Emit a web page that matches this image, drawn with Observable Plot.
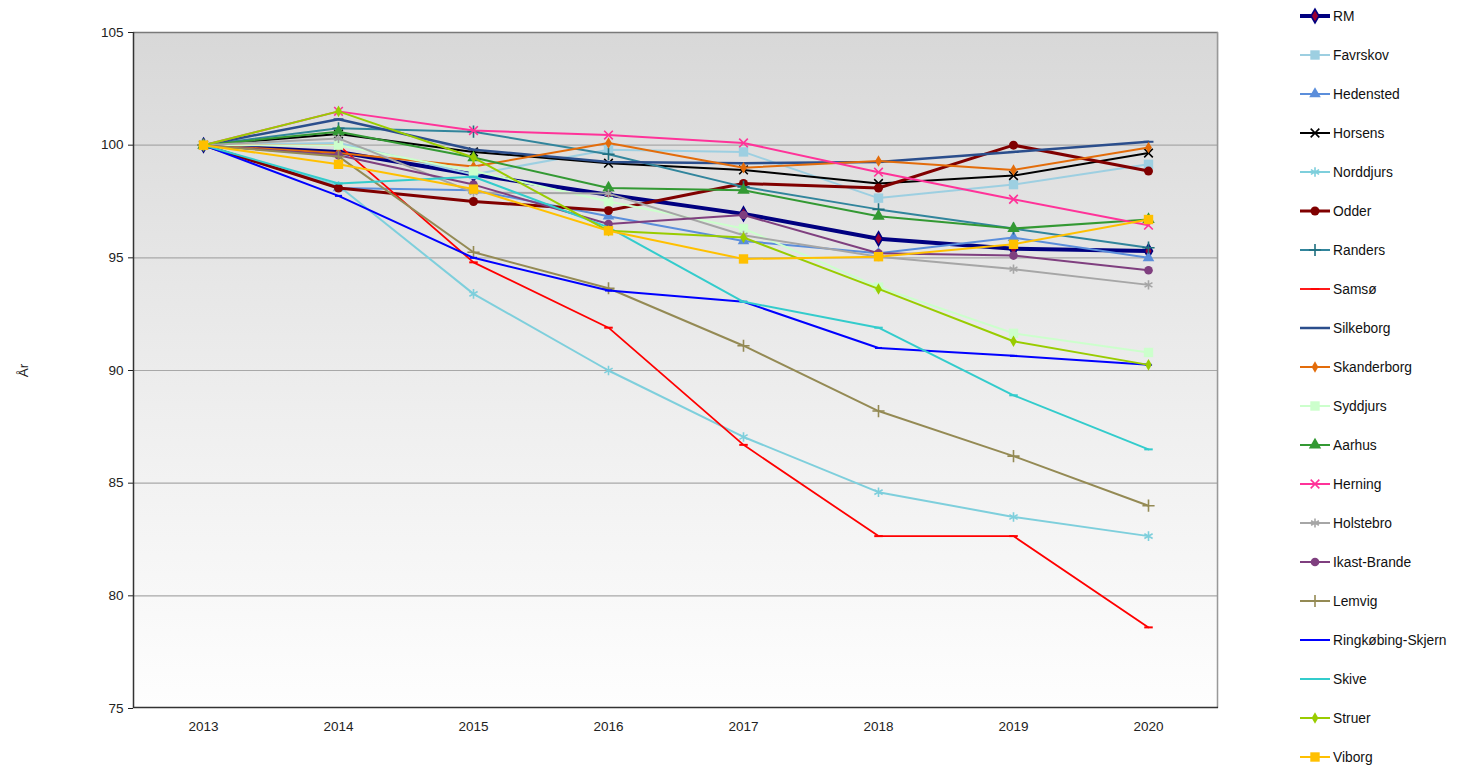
<!DOCTYPE html>
<html><head><meta charset="utf-8">
<script src="https://cdn.jsdelivr.net/npm/d3@7"></script>
<script src="https://cdn.jsdelivr.net/npm/@observablehq/plot@0.6"></script>
<style>
body{margin:0;background:#fff;font-family:"Liberation Sans",Arial,sans-serif;}
#wrap{position:relative;width:1461px;height:766px;overflow:hidden;}
#legend{position:absolute;left:1298px;top:0;width:163px;height:766px;}
.item{position:absolute;left:0;height:20px;display:flex;align-items:center;font-size:13.8px;color:#111;white-space:nowrap;}
.item svg{display:block;margin-right:1px;}
</style></head><body>
<div id="wrap"><div id="chart"></div><div id="legend"></div></div>
<script>
// ---- data ----
const years = ["2013","2014","2015","2016","2017","2018","2019","2020"];
const yTicks = [75,80,85,90,95,100,105];
const seriesNames = ["RM","Favrskov","Hedensted","Horsens","Norddjurs","Odder","Randers","Samsø","Silkeborg","Skanderborg","Syddjurs","Aarhus","Herning","Holstebro","Ikast-Brande","Lemvig","Ringkøbing-Skjern","Skive","Struer","Viborg"];
const vRM          = [100, 99.7, 98.7, 97.8, 96.95, 95.85, 95.4, 95.3];
const vFavrskov    = [100, 100.1, 98.7, 99.8, 99.7, 97.65, 98.25, 99.15];
const vHedensted   = [100, 98.1, 98.0, 96.85, 95.75, 95.2, 95.9, 95.0];
const vHorsens     = [100, 100.5, 99.7, 99.2, 98.9, 98.3, 98.65, 99.65];
const vNorddjurs   = [100, 98.2, 93.4, 90.0, 87.05, 84.6, 83.5, 82.65];
const vOdder       = [100, 98.1, 97.5, 97.1, 98.3, 98.1, 100.0, 98.85];
const vRanders     = [100, 100.75, 100.6, 99.6, 98.15, 97.15, 96.3, 95.45];
const vSamso       = [100, 100.0, 94.8, 91.9, 86.7, 82.65, 82.65, 78.6];
const vSilkeborg   = [100, 101.15, 99.8, 99.25, 99.2, 99.25, 99.7, 100.15];
const vSkanderborg = [100, 99.65, 99.05, 100.1, 99.0, 99.3, 98.9, 99.9];
const vSyddjurs    = [100, 100.0, 98.85, 97.5, 96.3, 93.7, 91.65, 90.8];
const vAarhus      = [100, 100.6, 99.45, 98.1, 98.0, 96.85, 96.3, 96.7];
const vHerning     = [100, 101.5, 100.65, 100.45, 100.1, 98.8, 97.6, 96.45];
const vHolstebro   = [100, 100.3, 97.9, 97.85, 96.0, 95.05, 94.5, 93.8];
const vIkast       = [100, 99.55, 98.25, 96.5, 96.9, 95.2, 95.1, 94.45];
const vLemvig      = [100, 99.5, 95.25, 93.65, 91.1, 88.2, 86.2, 84.0];
const vRingkobing  = [100, 97.75, 95.0, 93.55, 93.05, 91.0, 90.65, 90.25];
const vSkive       = [100, 98.3, 98.6, 96.35, 93.05, 91.9, 88.9, 86.5];
const vStruer      = [100, 101.5, 99.45, 96.2, 95.9, 93.62, 91.3, 90.25];
const vViborg      = [100, 99.15, 98.05, 96.2, 94.95, 95.05, 95.6, 96.7];
const seriesValues = [vRM,vFavrskov,vHedensted,vHorsens,vNorddjurs,vOdder,vRanders,vSamso,vSilkeborg,vSkanderborg,vSyddjurs,vAarhus,vHerning,vHolstebro,vIkast,vLemvig,vRingkobing,vSkive,vStruer,vViborg];

// ---- styles ----
const dash = {draw(ctx, size){ const w = Math.sqrt(size) * 0.8; ctx.moveTo(-w, 0); ctx.lineTo(w, 0); }};
const symMap = {diamond: d3.symbolDiamond, square: d3.symbolSquare, triangle: d3.symbolTriangle, times: d3.symbolTimes,
  asterisk: d3.symbolAsterisk, circle: d3.symbolCircle, plus: d3.symbolPlus};
const styles = [
  {c:"#000080", w:4,   s:"diamond",  r:4.2, fill:"#990033", stroke:"#000080"},
  {c:"#9DCFE1", w:2,   s:"square",   r:5.3, fill:"#9DCFE1"},
  {c:"#5B8EDB", w:2,   s:"triangle", r:4.3, fill:"#5B8EDB"},
  {c:"#000000", w:2,   s:"times",    r:4,   stroke:"#000000"},
  {c:"#7ECFDC", w:2,   s:"asterisk", r:4.5, stroke:"#7ECFDC"},
  {c:"#800000", w:3,   s:"circle",   r:4.5, fill:"#800000"},
  {c:"#31859C", w:2,   s:"plus",     r:4,   stroke:"#1F6F7F"},
  {c:"#FF0000", w:1.8, s:dash,       r:3,   stroke:"#FF0000"},
  {c:"#2B4E8C", w:2.5, s:dash,       r:3.5, stroke:"#2B4E8C"},
  {c:"#E36C0A", w:2,   s:"diamond",  r:3.5, fill:"#E36C0A"},
  {c:"#CCFFCC", w:2,   s:"square",   r:5.3, fill:"#CCFFCC"},
  {c:"#339933", w:2,   s:"triangle", r:4.6, fill:"#339933"},
  {c:"#FF3399", w:2,   s:"times",    r:4,   stroke:"#FF3399"},
  {c:"#A6A6A6", w:2,   s:"asterisk", r:4.3, stroke:"#A6A6A6"},
  {c:"#7F3F7F", w:2,   s:"circle",   r:4.3, fill:"#7F3F7F"},
  {c:"#948A54", w:2,   s:"plus",     r:4,   stroke:"#948A54"},
  {c:"#0000FF", w:2,   s:dash,       r:2.5, stroke:"#0000FF"},
  {c:"#33CCCC", w:2,   s:dash,       r:3,   stroke:"#33CCCC"},
  {c:"#99CC00", w:2,   s:"diamond",  r:3.5, fill:"#99CC00"},
  {c:"#FFC000", w:2,   s:"square",   r:5.3, fill:"#FFC000"}
];

const rows = seriesNames.flatMap((name, i) => years.map((year, j) => ({name, year, value: seriesValues[i][j]})));

const defsMark = () => {
  const defs = d3.create("svg:defs");
  const g = defs.append("linearGradient").attr("id","bgGrad").attr("x1",0).attr("y1",0).attr("x2",0).attr("y2",1);
  g.append("stop").attr("offset","0%").attr("stop-color","#D8D8D8");
  g.append("stop").attr("offset","55%").attr("stop-color","#EEEEEE");
  g.append("stop").attr("offset","100%").attr("stop-color","#FEFEFE");
  return defs.node();
};
const borderMark = (index, scales, values, dim) => {
  const g = d3.create("svg:g").attr("fill","none");
  const l = dim.marginLeft, t = dim.marginTop, r = dim.width - dim.marginRight, b = dim.height - dim.marginBottom;
  g.append("line").attr("x1",l).attr("x2",r).attr("y1",t+0.5).attr("y2",t+0.5).attr("stroke","#7a7a7a").attr("stroke-width",1.5);
  g.append("line").attr("x1",r-0.5).attr("x2",r-0.5).attr("y1",t).attr("y2",b).attr("stroke","#999").attr("stroke-width",1.5);
  g.append("line").attr("x1",l+0.5).attr("x2",l+0.5).attr("y1",t).attr("y2",b).attr("stroke","#333").attr("stroke-width",1.5);
  g.append("line").attr("x1",l).attr("x2",r).attr("y1",b-0.5).attr("y2",b-0.5).attr("stroke","#333").attr("stroke-width",1.5);
  return g.node();
};

const marks = [
  defsMark,
  Plot.frame({fill: "url(#bgGrad)"}),
  Plot.gridY(yTicks.filter(v => v > 75 && v < 105), {stroke: "#A8A8A8", strokeOpacity: 1, strokeWidth: 1.2}),
  Plot.axisY({ticks: yTicks, tickSize: 5, tickPadding: 5, fontSize: 13.5, label: "År", labelAnchor: "center", labelOffset: 115, labelArrow: "none"}),
  Plot.axisX({tickSize: 0, tickPadding: 13, fontSize: 13.5, label: null}),
  borderMark
];
seriesNames.forEach((name, i) => {
  const st = styles[i];
  const data = rows.filter(d => d.name === name);
  marks.push(Plot.line(data, {x: "year", y: "value", stroke: st.c, strokeWidth: st.w, curve: "linear"}));
  marks.push(Plot.dot(data, {x: "year", y: "value", symbol: () => st.s, r: st.r,
    fill: st.fill || "none", stroke: st.stroke || "none", strokeWidth: st.stroke ? (st.s === dash ? 2 : 1.6) : 1}));
});

const chart = Plot.plot({
  width: 1461, height: 766,
  marginLeft: 133, marginRight: 243, marginTop: 32, marginBottom: 58,
  style: {fontFamily: "'Liberation Sans', Arial, sans-serif", color: "#222", background: "transparent", fontSize: "13.5px"},
  x: {type: "point", domain: years, padding: 0.5},
  y: {domain: [75, 105]},
  symbol: {type: "identity"},
  marks
});
document.getElementById("chart").appendChild(chart);

// ---- legend ----
const legend = d3.select("#legend");
seriesNames.forEach((name, i) => {
  const st = styles[i];
  const item = legend.append("div").attr("class","item").style("top", (6 + i * 39) + "px");
  const svg = item.append("svg").attr("width", 34).attr("height", 20);
  svg.append("line").attr("x1",2).attr("x2",32).attr("y1",10).attr("y2",10).attr("stroke", st.c).attr("stroke-width", st.w);
  const type = typeof st.s === "string" ? symMap[st.s] : st.s;
  const gen = d3.symbol(type, st.r * st.r * Math.PI);
  svg.append("path").attr("transform","translate(17,10)").attr("d", gen())
    .attr("fill", st.fill || "none").attr("stroke", st.stroke || "none").attr("stroke-width", st.stroke ? 1.6 : 1);
  item.append("span").text(name);
});
</script>
</body></html>
